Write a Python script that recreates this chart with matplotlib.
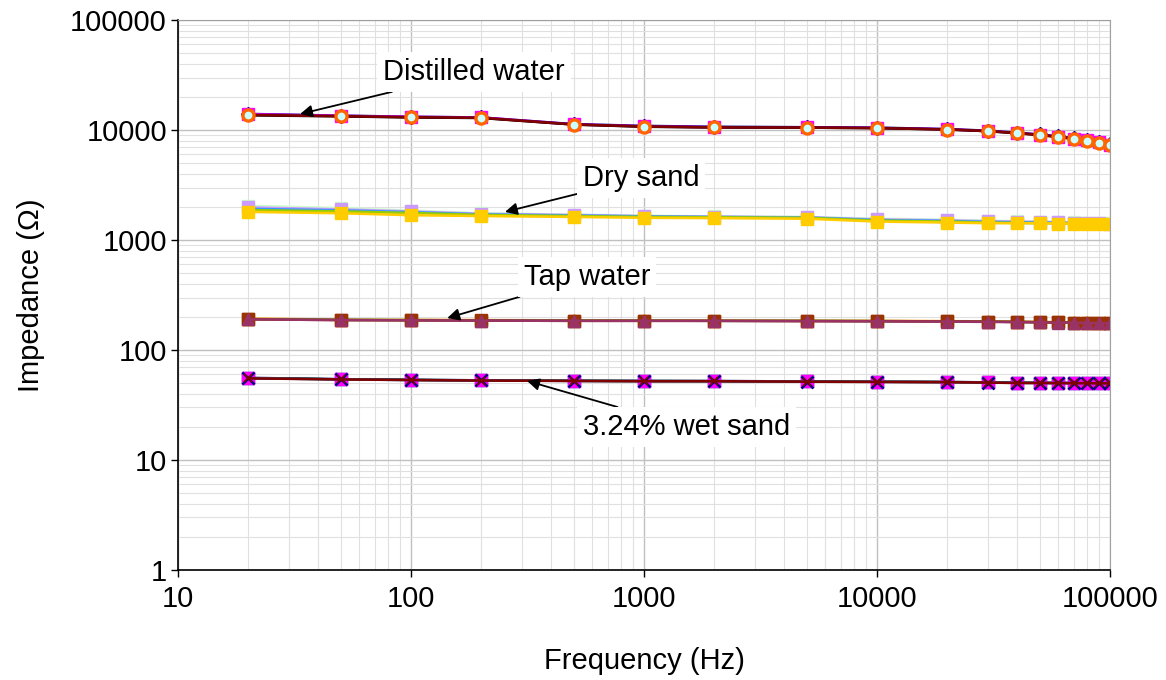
import matplotlib.pyplot as plt

# frequencies (Hz)
freq = [20, 50, 100, 200, 500, 1000, 2000, 5000, 10000, 20000,
        30000, 40000, 50000, 60000, 70000, 80000, 90000, 100000]

# distilled water, several runs
dist_1 = [14000, 13500, 13200, 13000, 11300, 10900, 10700, 10600, 10500, 10200,
          9850, 9450, 9100, 8750, 8400, 8100, 7750, 7400]
dist_2 = [13900, 13450, 13150, 13000, 11250, 10800, 10600, 10550, 10450, 10150,
          9800, 9400, 9050, 8700, 8350, 8050, 7700, 7350]
dist_3 = [13600, 13300, 13000, 12850, 11200, 10700, 10550, 10500, 10400, 10100,
          9750, 9350, 9000, 8650, 8300, 8000, 7650, 7300]
dist_4 = [13700, 13350, 13050, 12900, 11200, 10750, 10550, 10500, 10400, 10100,
          9750, 9350, 9000, 8650, 8300, 8000, 7650, 7300]

# dry sand, several runs
dry_1 = [2050, 1950, 1850, 1750, 1700, 1660, 1640, 1620, 1560, 1530,
         1500, 1480, 1470, 1460, 1450, 1440, 1430, 1420]
dry_2 = [1980, 1900, 1820, 1730, 1690, 1650, 1630, 1610, 1540, 1510,
         1480, 1470, 1460, 1450, 1440, 1430, 1420, 1410]
dry_3 = [1920, 1860, 1790, 1710, 1670, 1640, 1620, 1600, 1520, 1490,
         1460, 1450, 1440, 1430, 1420, 1410, 1410, 1400]
dry_4 = [1870, 1820, 1760, 1690, 1650, 1620, 1610, 1590, 1500, 1470,
         1440, 1430, 1420, 1420, 1410, 1400, 1400, 1390]
dry_5 = [1800, 1750, 1680, 1650, 1620, 1590, 1580, 1560, 1470, 1440,
         1420, 1420, 1420, 1410, 1410, 1400, 1400, 1400]

# tap water, several runs
tap_1 = [193, 189, 188, 187, 186, 186, 185, 185, 184, 183,
         182, 181, 180, 179, 178, 178, 177, 177]
tap_2 = [191, 188, 187, 186, 185, 185, 184, 184, 183, 182,
         181, 180, 179, 178, 177, 177, 176, 176]
tap_3 = [190, 187, 186, 185, 184, 184, 184, 183, 183, 182,
         181, 180, 179, 178, 177, 176, 176, 175]
tap_4 = [190, 187, 186, 185, 184, 184, 184, 183, 182, 181,
         180, 179, 178, 177, 177, 176, 175, 175]

# 3.24% wet sand, several runs
wet_1 = [55.8, 54.3, 53.6, 53.0, 52.5, 52.3, 52.2, 51.8, 51.5, 51.2,
         50.8, 50.4, 50.3, 50.2, 50.1, 50.0, 50.0, 49.9]
wet_2 = [55.5, 54.1, 53.4, 52.9, 52.4, 52.2, 52.1, 51.7, 51.4, 51.1,
         50.7, 50.3, 50.2, 50.1, 50.0, 50.0, 49.9, 49.8]
wet_3 = [55.3, 54.0, 53.3, 52.8, 52.3, 52.1, 52.0, 51.6, 51.3, 51.0,
         50.6, 50.2, 50.1, 50.0, 50.0, 49.9, 49.8, 49.8]
wet_4 = [55.2, 54.0, 53.3, 52.7, 52.3, 52.0, 52.0, 51.5, 51.2, 51.0,
         50.5, 50.1, 50.1, 50.0, 49.9, 49.9, 49.8, 49.7]

plt.rcParams['font.family'] = ['Liberation Sans', 'DejaVu Sans']

fig = plt.figure(figsize=(11.66, 6.8), dpi=100)
ax = fig.add_axes([0.1527, 0.1618, 0.7993, 0.8088])

ms = 8
lw = 1.8
fs = 21

# wet sand
ax.plot(freq, wet_1, color='#000080', lw=lw, marker='s', ms=ms, mfc='#000080', mec='#000080')
ax.plot(freq, wet_2, color='#008000', lw=lw, marker='s', ms=ms, mfc='#FF00FF', mec='#FF00FF')
ax.plot(freq, wet_3, color='#5050A0', lw=lw, marker='x', ms=ms, mew=1.8, mec='#000080')
ax.plot(freq, wet_4, color='#800000', lw=lw, marker='x', ms=ms - 2, mew=1.2, mec='#800000')

# tap water
ax.plot(freq, tap_1, color='#FF9900', lw=lw, marker='^', ms=ms, mfc='#FF9900', mec='#FF9900')
ax.plot(freq, tap_2, color='#339966', lw=lw, marker='s', ms=ms, mfc='#993300', mec='#993300')
ax.plot(freq, tap_3, color='#993300', lw=lw, marker='s', ms=ms, mfc='#993300', mec='#993300')
ax.plot(freq, tap_4, color='#993366', lw=lw, marker='^', ms=ms, mfc='#993366', mec='#993366')

# dry sand
ax.plot(freq, dry_1, color='#CCFFCC', lw=lw, marker='s', ms=ms, mfc='#CCFFCC', mec='#CCFFCC')
ax.plot(freq, dry_2, color='#CC99FF', lw=lw, marker='s', ms=ms, mfc='#CC99FF', mec='#CC99FF')
ax.plot(freq, dry_3, color='#3399FF', lw=lw)
ax.plot(freq, dry_4, color='#99CC00', lw=lw)
ax.plot(freq, dry_5, color='#FFCC00', lw=lw, marker='s', ms=ms + 1, mfc='#FFCC00', mec='#FFCC00')

# distilled water
ax.plot(freq, dist_1, color='#000080', lw=lw, marker='D', ms=ms - 1, mfc='#000080', mec='#000080')
ax.plot(freq, dist_2, color='#FF00FF', lw=lw, marker='s', ms=ms, mfc='#FF00FF', mec='#FF00FF')
ax.plot(freq, dist_3, color='#000000', lw=lw)
ax.plot(freq, dist_4, color='#800000', lw=lw, marker='o', ms=ms, mfc='#CCFFFF',
        mec='#FF6600', mew=2.4)

ax.set_xscale('log')
ax.set_yscale('log')
ax.set_xlim(10, 100000)
ax.set_ylim(1, 100000)
ax.set_xticks([10, 100, 1000, 10000, 100000])
ax.set_xticklabels(['10', '100', '1000', '10000', '100000'])
ax.set_yticks([1, 10, 100, 1000, 10000, 100000])
ax.set_yticklabels(['1', '10', '100', '1000', '10000', '100000'])

ax.grid(True, which='major', color='#C0C0C0', lw=1.0)
ax.grid(True, which='minor', color='#E0E0E0', lw=0.8)
ax.set_axisbelow(True)
ax.tick_params(which='major', direction='out', length=5, width=1, labelsize=fs)
ax.tick_params(axis='y', which='major', pad=3)
ax.tick_params(axis='x', which='major', pad=6)
ax.tick_params(which='minor', length=0)
for s in ['top', 'right']:
    ax.spines[s].set_color('#A0A0A0')
for s in ['left', 'bottom']:
    ax.spines[s].set_color('black')
    ax.spines[s].set_linewidth(1.2)

ax.set_xlabel('Frequency (Hz)', fontsize=fs, labelpad=24)
ax.set_ylabel('Impedance (Ω)', fontsize=fs, labelpad=18)

box = dict(boxstyle='square,pad=0.2', fc='white', ec='none')
arrow = dict(arrowstyle='-|>', color='black', lw=1.3, mutation_scale=18, shrinkA=0, shrinkB=0)
ax.annotate('Distilled water', xy=(33.4, 13970), xytext=(76, 33660), fontsize=fs,
            va='center', ha='left', bbox=box, arrowprops=arrow)
ax.annotate('Dry sand', xy=(253, 1800), xytext=(545, 3660), fontsize=fs,
            va='center', ha='left', bbox=box, arrowprops=arrow)
ax.annotate('Tap water', xy=(143, 195), xytext=(305, 461), fontsize=fs,
            va='center', ha='left', bbox=box, arrowprops=arrow)
ax.annotate('3.24% wet sand', xy=(315, 52.3), xytext=(545, 20), fontsize=fs,
            va='center', ha='left', bbox=box, arrowprops=arrow)

fig.savefig('out.png', dpi=100)
